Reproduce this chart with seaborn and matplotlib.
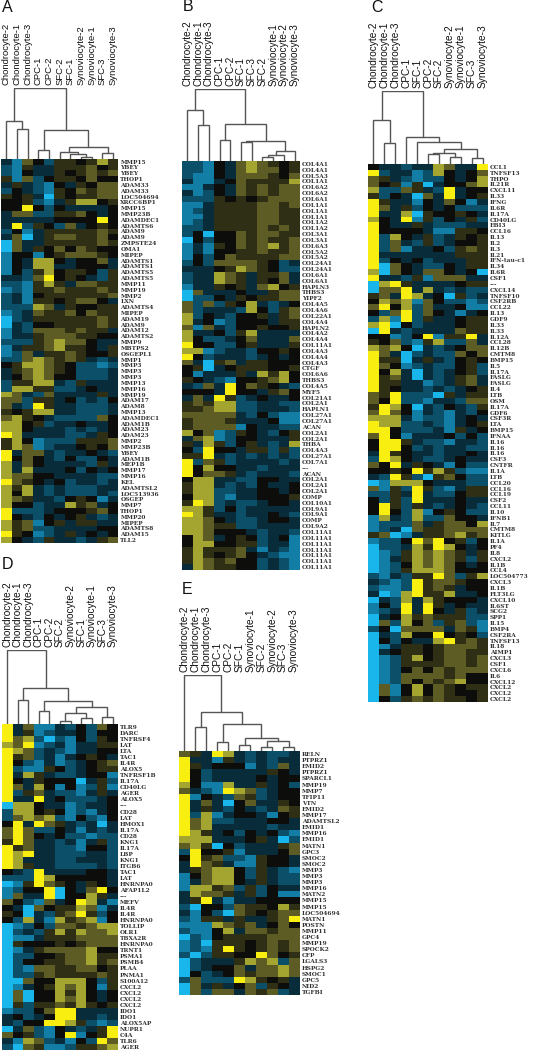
import numpy as np
import pandas as pd
import matplotlib
matplotlib.use("Agg")
import matplotlib.pyplot as plt
import seaborn as sns
from matplotlib.colors import LinearSegmentedColormap

# expression levels are coded one letter per cell, a = -4 (blue) ... e = 0 ... i = +4 (yellow)
letters = "abcdefghi"
level_colors = ["#18b6ea", "#127ea6", "#0b4f69", "#082c3a", "#0c0c0c",
                "#2e2e16", "#5a5a24", "#a2a232", "#f8ee10"]

cols_a = ["Chondrocyte-2", "Chondrocyte-1", "Chondrocyte-3", "CPC-1", "CPC-2", "SFC-2", "SFC-1",
          "Synoviocyte-2", "Synoviocyte-1", "SFC-3", "Synoviocyte-3"]
genes_a = ["MMP15", "YBEY", "YBEY", "THOP1", "ADAM33", "ADAM33", "LOC504694", "XRCC6BP1", "MMP15", "MMP23B",
           "ADAMDEC1", "ADAMTS6", "ADAM9", "ADAM9", "ZMPSTE24", "OMA1", "MIPEP", "ADAMTS1", "ADAMTS1", "ADAMTS5",
           "ADAMTS5", "MMP11", "MMP19", "MMP2", "LXN", "ADAMTS4", "MIPEP", "ADAM19", "ADAM9", "ADAM12",
           "ADAMTS2", "MMP9", "MBTPS2", "OSGEPL1", "MMP1", "MMP3", "MMP3", "MMP3", "MMP13", "MMP16",
           "MMP19", "ADAM17", "ADAM8", "MMP13", "ADAMDEC1", "ADAM1B", "ADAM23", "ADAM23", "MMP2", "MMP23B",
           "YBEY", "ADAM1B", "MEP1B", "MMP17", "MMP16", "KEL", "ADAMTSL2", "LOC513936", "OSGEP", "MMP7",
           "THOP1", "MMP20", "MIPEP", "ADAMTS8", "ADAM15", "TLL2"]
rows_a = ["dbgecffefhf", "cbfddfffgef", "cbeddfefgfg", "fbgceffegee", "dfdcbedfegg", "cedcbfegfgg",
          "fefdafeffgg", "eefcbdfhhef", "eeiecedddde", "dggccffgede", "dddddeeeeie", "dicfecgdefe",
          "cebdfffffgf", "dgadfggffge", "agddfffffgf", "agdfegegfee", "beebefgggfe", "bedhhedeegd",
          "bedhhddeeed", "becfheffecf", "ddcgiefedcf", "ccbfhfdggff", "bcbffgfffgf", "cdbeffffffg",
          "cdbffefgged", "ccchgdfeeff", "bcdgffgegff", "acdffffffgf", "adceeffffgf", "bdcgggfgffd",
          "bddfgggffee", "cccfghggedd", "bdffghffedf", "bcgdffgfeef", "ccghgfgfdcd", "efhhgfeccbc",
          "dfghgfecccd", "deghgeecccd", "cffhhdcfddd", "chhffccdedd", "hgdcgddddfd", "ggcffdecdce",
          "gdcifddcccd", "fefhhddcccd", "ghfedccccge", "hhefcddedde", "hhedddcdcde", "ihddddccdfe",
          "fhebcccfffg", "fhgbcddefeg", "idggdcddedc", "iegedcecced", "hdgeddddcfd", "hdhdddecede",
          "hggeeddddcc", "igfedecddcd", "hfhdcdcccdd", "hehdcdcccdc", "hgfddcefebd", "heecddhfgde",
          "icccdeeefge", "iedcedefdcd", "hfgbefdffdd", "hfgccddddee", "ifebcdfdede", "hedcfddcdfg"]
merges_a = [(1, 2, 30), (0, 11, 38), (3, 4, 9), (7, 8, 2), (6, 14, 5), (5, 15, 7),
            (9, 10, 6), (16, 17, 12), (13, 18, 29), (12, 19, 71)]

cols_b = ["Chondrocyte-2", "Chondrocyte-1", "Chondrocyte-3", "CPC-1", "CPC-2", "SFC-1", "SFC-3", "SFC-2",
          "Synoviocyte-1", "Synoviocyte-2", "Synoviocyte-3"]
genes_b = ["COL4A1", "COL4A1", "COL5A3", "COL1A1", "COL6A2", "COL6A2", "COL6A1", "COL1A1", "COL1A1", "COL1A1",
           "COL1A2", "COL1A2", "COL3A1", "COL3A1", "COL6A3", "COL5A2", "COL5A2", "COL24A1", "COL24A1", "COL6A1",
           "COL6A1", "HAPLN3", "THBS3", "YIPF2", "COL4A5", "COL4A6", "COL22A1", "COL4A4", "HAPLN2", "COL4A2",
           "COL4A4", "COL11A1", "COL4A3", "COL4A4", "COL4A3", "CTGF", "COL6A6", "THBS3", "COL4A5", "MYF5",
           "COL21A1", "COL2A1", "HAPLN1", "COL27A1", "COL27A1", "ACAN", "COL2A1", "COL2A1", "THBA", "COL4A3",
           "COL27A1", "COL7A1", "---", "ACAN", "COL2A1", "COL2A1", "COL2A1", "COMP", "COL10A1", "COL9A1",
           "COL9A1", "COMP", "COL9A2", "COL11A1", "COL11A1", "COL11A1", "COL11A1", "COL11A1", "COL11A1", "COL11A1"]
rows_b = ["ccbedghgfef", "ccbedghggef", "cbbedgggfeg", "dbbdegffffh", "bbdedgfgfgg", "dbcedgfgfgg",
          "cccfefefggg", "bbdffffggfg", "bcdffffggff", "bbdffffggff", "bcdffffggff", "ccdffffgfgf",
          "ceaeegfggff", "aeceegfgffg", "bdbfegfghfg", "bdbeeffgffg", "becegffffgg", "cecggggfecd",
          "dddefhgfecc", "cddhgfdffgd", "cddhgfdfegd", "bddfefdghef", "agdddeddfgg", "accedfeffgg",
          "gcgcfehdcde", "gcdddchecfg", "hcedceefdfg", "hdebceeedff", "gbgdceefeef", "hddecfhdddd",
          "heccdegdddg", "ieeccefdddf", "hhbcddceefe", "iecdddcdede", "gdafgdffeee", "efadefffeef",
          "ebdddfdhfhe", "fedcbeefghe", "dcgdiegfedc", "eeedieedfge", "dgdifcdedde", "fgfhhccddcc",
          "ffghhccdddc", "gggggdcecbb", "fgggfdddebb", "fggggbeddcc", "hegbcfedcef", "dghbceedddf",
          "fdhfcefdcdh", "ecieedffcfc", "ffidcdcdcdc", "icgfcddddcd", "ieheeddcddd", "ieggfdcdddc",
          "ehhddcceedd", "fhhdcdcedde", "fhhccddeede", "ehhcbddeeef", "fihcdccdeed", "hhfcecddddd",
          "ihfddcddedc", "hhgedccdeed", "hhgffccdddd", "hhgeeedcddc", "ehgdefecdeb", "ehheeffcddb",
          "fhfffgdbdcb", "fhfefgedcbb", "fhgfgeecdcb", "dhgffeecdcb"]
merges_b = [(1, 2, 36), (0, 11, 51), (3, 4, 21), (5, 6, 19), (7, 8, 4), (15, 9, 6),
            (16, 10, 10), (14, 17, 20), (13, 18, 37), (12, 19, 72)]

cols_c = ["Chondrocyte-2", "Chondrocyte-1", "Chondrocyte-3", "CPC-1", "SFC-1", "CPC-2", "SFC-2",
          "Synoviocyte-2", "Synoviocyte-1", "SFC-3", "Synoviocyte-3"]
genes_c = ["CCL1", "TNFSF13", "THPO", "IL21R", "CXCL11", "IL33", "IFNG", "IL6R", "IL17A", "CD40LG",
           "EBI3", "CCL16", "IL13", "IL2", "IL3", "IL21", "IFN-tau-c1", "IL34", "IL6R", "CSF1",
           "---", "CXCL14", "TNFSF10", "CSF2RB", "CCL22", "IL13", "GDF9", "IL33", "IL33", "IL12A",
           "CCL28", "IL12B", "CMTM8", "BMP15", "IL5", "IL17A", "FASLG", "FASLG", "IL4", "LTB",
           "OSM", "IL17A", "GDF6", "CSF3R", "LTA", "BMP15", "IFNAA", "IL16", "IL16", "IL16",
           "CSF3", "CNTFR", "IL1A", "LTB", "CCL20", "CCL16", "CCL19", "CSF2", "CCL11", "IL10",
           "IFNB1", "IL7", "CMTM8", "KITLG", "IL1A", "PF4", "IL8", "CXCL2", "IL1B", "CCL4",
           "LOC504773", "CXCL3", "IL1B", "FLT3LG", "CXCL10", "IL6ST", "SCG2", "SPP1", "IL15", "BMP4",
           "CSF2RA", "TNFSF13", "IL18", "AIMP1", "CXCL3", "CSF1", "CXCL6", "IL6", "CXCL12", "CXCL2",
           "CXCL2", "CXCL2"]
rows_c = ["eddcddhgddi", "icddbchedeg", "gfdcbccedeh", "gefbfadeegh", "hccgfdcidee", "fcedagdidef",
          "ifddbedgebd", "igdfcedeccc", "iddhafeefed", "hedibfcedfc", "ieddfdcccdd", "ieeeedbbffe",
          "ichedfcdfef", "icgdcfcdeef", "icgbddecfgf", "idddddddfff", "icedecdddff", "iagedccedff",
          "hagedggedea", "iddcfbgggdd", "ahifddddeff", "aggidhdcdcc", "fgdihdeafcd", "ehghbgeccbc",
          "giehcgddebb", "ecgicgedbde", "chbicfddeff", "hiaecdddeff", "aidcddddgff", "eebceibffid",
          "fegcbfhccgd", "hgheadcdegg", "igdacdccgeg", "iffadfdcefe", "igebcdccefc", "iehdadcdefc",
          "ifgdadcdfgd", "iffddbcdfgd", "ifeddcdcdef", "gficccafdff", "geiccbddcgg", "fiheadcedcf",
          "gigebdcbdce", "hhhdbccbded", "ihhccdcbdef", "iiecccdbfde", "giebdddecec", "eiifdccbddc",
          "eiiecdcddcc", "difeddcdded", "cihedccdedd", "geidfedbecc", "eefeifhfcbb", "dcifcafgecc",
          "abhhhedddcc", "gbfcifcbdff", "ccfdidcceff", "ecfcidddedd", "eifcfdcdedc", "eiechbefecc",
          "bhdchccgeed", "bcccgdfggeh", "bcdagffgggg", "fgabdffghfg", "bcceigiefce", "accdhfihede",
          "abcfhghgfdf", "abdfhghgfcf", "abcehghgede", "abcfhhhgeee", "cbdcffigcfh", "dcbcifggfee",
          "cbbcifgfdee", "dabhiffhdde", "adchdhfeeed", "becidifdedd", "bcdidiedfcd", "adehfgfffcc",
          "agchegcfgcb", "ceaggggdgfb", "adcheeiefec", "aeceddhifgf", "abdffefgggf", "adeffefggff",
          "abcfhefggfg", "abcffffggfg", "abcegegfggg", "abcggggfgee", "abcgegfghee", "agbehegfeff",
          "agbehegfeef", "aecfgfgffef"]
merges_c = [(1, 2, 21), (0, 11, 44), (5, 6, 10), (7, 8, 7), (13, 14, 11), (9, 10, 6.5),
            (15, 16, 15), (4, 17, 22), (3, 18, 27), (12, 19, 73)]

cols_d = ["Chondrocyte-2", "Chondrocyte-1", "Chondrocyte-3", "CPC-1", "CPC-2", "SFC-2", "Synoviocyte-2",
          "SFC-1", "Synoviocyte-1", "SFC-3", "Synoviocyte-3"]
genes_d = ["TLR9", "DARC", "TNFRSF4", "LAT", "LTA", "TAC1", "IL4R", "ALOX5", "TNFRSF1B", "IL17A",
           "CD40LG", "AGER", "ALOX5", "---", "CD28", "LAT", "HMOX1", "IL17A", "CD28", "KNG1",
           "IL17A", "LBP", "KNG1", "ITGB6", "TAC1", "LAT", "HNRNPA0", "AFAP1L2", "---", "MEFV",
           "IL4R", "IL4R", "HNRNPA0", "TOLLIP", "OLR1", "TBXA2R", "HNRNPA0", "TRNT1", "PSMA1", "PSMB4",
           "PLAA", "PNMA1", "S100A12", "CXCL2", "CXCL2", "CXCL2", "CXCL2", "IDO1", "IDO1", "ALOX5AP",
           "NUPR1", "C4A", "TLR6", "AGER"]
rows_d = ["idgbbdcecge", "idfbcddecee", "ighcacbecfe", "hgibcdbddff", "ihgcdcbddee", "ifgcdbdefed",
          "iecbdbcdefg", "icbbfecdeff", "idhfdccdeeb", "iedfeeeadfc", "igdhebebcfb", "icfgdccbdfd",
          "iddidecccde", "ahheddbcdde", "chhefebcbde", "cghghcbecbe", "eidigfdcdad", "gigccedbdcd",
          "gigedeccbcc", "figddcdbdfc", "ifgddccbeec", "ihiddcccddc", "ihdddccdddc", "ihfddccccdc",
          "edciddddeed", "ccciheeeeed", "abfigfedfed", "bceeiaedgie", "bgddiaeehfd", "gecbgdeihdb",
          "edageffhgbd", "feadcfgifce", "echdbhfghbe", "abcecggfghh", "acdcfhfhggh", "abbdfffgggg",
          "afeeefefggg", "abdfgggghee", "acceefgghff", "aceeffgghfg", "acbggffggef", "accfgffffgf",
          "aageehhhecf", "abdefhghebf", "agaeehfhede", "agaeehghede", "afcffgfhfef", "bccegiidddd",
          "decdeiiddcd", "dceeiihfcbc", "adgcbedcdfi", "gefcbeibefi", "dbhgcdbecig", "cagfbbcffgh"]
merges_d = [(1, 2, 24), (3, 4, 13), (5, 6, 3), (7, 8, 6), (13, 14, 11), (9, 10, 7),
            (15, 16, 17), (12, 17, 23), (11, 18, 36), (0, 19, 74)]

cols_e = ["Chondrocyte-2", "Chondrocyte-1", "Chondrocyte-3", "CPC-1", "CPC-2", "SFC-1", "Synoviocyte-1",
          "SFC-2", "Synoviocyte-2", "SFC-3", "Synoviocyte-3"]
genes_e = ["RELN", "PTPRZ1", "EMID2", "PTPRZ1", "SPARCL1", "MMP19", "MMP7", "TFIP11", "VTN", "EMID2",
           "MMP17", "ADAMTSL2", "EMID1", "MMP16", "EMID1", "MATN1", "GPC3", "SMOC2", "SMOC2", "MMP3",
           "MMP3", "MMP3", "MMP16", "MATN2", "MMP15", "MMP15", "LOC504694", "MATN1", "POSTN", "MMP11",
           "GPC4", "MMP19", "SPOCK2", "CFP", "LGALS3", "HSPG2", "SMOC1", "GPC5", "NID2", "TGFBI"]
rows_e = ["gfdihdcdccd", "iddbfdcdcdd", "ifdeeebdcgd", "iecdddddfed", "iecddddedee", "hebbhddfdec",
          "gdcbihgcdee", "ibedcgfcdee", "idgdaegddfe", "idfdcedcdgf", "ichbdeedbef", "ighccdddeed",
          "ighdddddcdd", "ihfdecedecb", "hhhdddefdac", "ghfaecdddfg", "cieefbdddeg", "eifgccbfeed",
          "digfdbbfeed", "dfghhecfdcb", "beghhecfdcc", "bdghhedfdcc", "bhhfgcfcedd", "dhggfdfcebb",
          "dfidbddeeee", "caeecgffehf", "dbecagfefgg", "cbffdfddfgi", "bbbhgfgdege", "cbbehdggfgg",
          "acbeffffggg", "bcafffefgfg", "bcbfifefgfg", "cacffeeigef", "acdddfhghcg", "acdeegdgghg",
          "aecdegfgghg", "cgcccihfefd", "agdfdegcfed", "agcggdgfgcd"]
merges_e = [(1, 2, 24), (3, 4, 9), (5, 6, 6), (7, 8, 4), (9, 10, 4), (14, 15, 10),
            (13, 16, 13), (12, 17, 27), (11, 18, 39), (0, 19, 76)]

W, H = 553, 1050
cmap = LinearSegmentedColormap.from_list("by", level_colors)


def px_axes(fig, x0, y0, x1, y1):
    # pixel box of the reference, y from the top
    return fig.add_axes([x0 / W, 1 - y1 / H, (x1 - x0) / W, (y1 - y0) / H])


def draw_panel(fig, letter, letter_xy, box, cols, genes, rows, merges, col_size):
    x0, y0, x1, y1 = box
    tree_top = max(m[2] for m in merges)
    values = [[letters.index(ch) - 4 for ch in row] for row in rows]
    df = pd.DataFrame(values, index=genes, columns=cols)

    ax = px_axes(fig, x0, y0, x1, y1)
    sns.heatmap(df, ax=ax, cmap=cmap, vmin=-4, vmax=4, cbar=False, xticklabels=False, yticklabels=genes)
    ax.yaxis.tick_right()
    ax.tick_params(axis="y", length=0, pad=1.5, labelrotation=0)
    for lab in ax.get_yticklabels():
        lab.set_fontfamily("DejaVu Serif")
        lab.set_fontweight("bold")
        lab.set_fontsize(4.2)
        lab.set_color("#333333")
    ax.set_xlabel("")
    ax.set_ylabel("")

    tree = px_axes(fig, x0, y0 - tree_top, x1, y0)
    pos = {i: (i + 0.5, 0.0) for i in range(len(cols))}
    for k, (a, b, h) in enumerate(merges):
        xa, ya = pos[a]
        xb, yb = pos[b]
        tree.plot([xa, xa, xb, xb], [ya, h, h, yb], color="#555555", lw=1.0, solid_joinstyle="miter")
        pos[len(cols) + k] = ((xa + xb) / 2, h)
    tree.set_xlim(0, len(cols))
    tree.set_ylim(0, tree_top)
    tree.set_xticks(np.arange(len(cols)) + 0.5)
    tree.set_xticklabels(cols, rotation=90, fontsize=col_size, color="#111111")
    tree.xaxis.tick_top()
    tree.tick_params(axis="x", length=0, pad=2.2)
    tree.set_yticks([])
    for s in tree.spines.values():
        s.set_visible(False)
    tree.patch.set_alpha(0)

    fig.text(letter_xy[0] / W, 1 - letter_xy[1] / H, letter, fontsize=11.5, color="#111111", ha="left", va="baseline")


sns.set_style("white")
plt.rcParams["font.family"] = ["Liberation Sans", "DejaVu Sans"]
fig = plt.figure(figsize=(W / 100, H / 100), dpi=100, facecolor="white")

draw_panel(fig, "A", (2, 11.5), (1, 158.7, 118.3, 543), cols_a, genes_a, rows_a, merges_a, 6.8)
draw_panel(fig, "B", (183, 11), (182, 161, 300, 570), cols_b, genes_b, rows_b, merges_b, 7.2)
draw_panel(fig, "C", (371, 12), (368, 164, 488, 702), cols_c, genes_c, rows_c, merges_c, 7.3)
draw_panel(fig, "D", (2, 569), (2, 724, 118, 1050), cols_d, genes_d, rows_d, merges_d, 7.2)
draw_panel(fig, "E", (182, 593.5), (179, 751, 299.5, 995), cols_e, genes_e, rows_e, merges_e, 7.3)

fig.savefig("out.png", dpi=100, facecolor="white")
